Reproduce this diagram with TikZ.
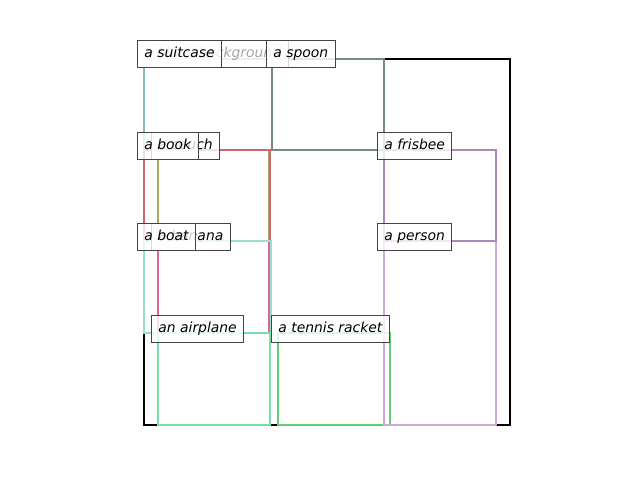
\documentclass[tikz,border=0pt]{standalone}
\usepackage{fontspec}
\setmainfont{DejaVu Sans}
\definecolor{labelgray}{HTML}{444444}
\definecolor{csuitcase}{HTML}{88BBBB}
\definecolor{cspoon}{HTML}{778888}
\definecolor{cbook}{HTML}{CC6677}
\definecolor{ccouch}{HTML}{AAAA66}
\definecolor{cboat}{HTML}{99DDCC}
\definecolor{cbanana}{HTML}{DD6699}
\definecolor{cairplane}{HTML}{77DDAA}
\definecolor{ctennis}{HTML}{66CC77}
\definecolor{cfrisbee}{HTML}{AA88BB}
\definecolor{cperson}{HTML}{CCAADD}
\begin{document}
\begin{tikzpicture}[x=0.72pt,y=-0.72pt,
  bbox/.style={line width=2pt},
  lab/.style={anchor=west, draw=labelgray, line width=0.7pt, fill=white,
    fill opacity=0.8, text opacity=1, inner xsep=5pt, inner ysep=5pt,
    text height=7.6pt, text depth=2.4pt,
    font=\itshape\fontsize{10}{12}\selectfont}]
\useasboundingbox (0,0) rectangle (640,480);
% boxes
\draw[bbox, black] (144,59) rectangle (510,425);
\draw[bbox, csuitcase] (144,59) rectangle (272,150);
\draw[bbox, cspoon] (272,59) rectangle (384,150);
\draw[bbox, ccouch] (158,150) rectangle (269,241);
\draw[bbox, cbook] (144,150) rectangle (270,241);
\draw[bbox, cbanana] (158,241) rectangle (269,333);
\draw[bbox, cboat] (144,241) rectangle (271,333);
\draw[bbox, cairplane] (158,333) rectangle (270,425);
\draw[bbox, ctennis] (278,333) rectangle (390,425);
\draw[bbox, cperson] (384,241) rectangle (496,425);
\draw[bbox, cfrisbee] (384,150) rectangle (496,241);
% labels
\node[lab, text opacity=0.35] (lbackground) at (137,54) {a black background};
\node[lab] (lsuitcase) at (137,54) {a suitcase};
\node[lab] (lspoon) at (266,54) {a spoon};
\node[lab] (lcouch) at (151,146) {a couch};
\node[lab] (lbook) at (137,146) {a book};
\node[lab] (lbanana) at (151,237) {a banana};
\node[lab] (lboat) at (137,237) {a boat};
\node[lab] (lairplane) at (151,329) {an airplane};
\node[lab] (ltennis) at (271,329) {a tennis racket};
\node[lab] (lperson) at (377,237) {a person};
\node[lab] (lfrisbee) at (377,146) {a frisbee};
\end{tikzpicture}
\end{document}
